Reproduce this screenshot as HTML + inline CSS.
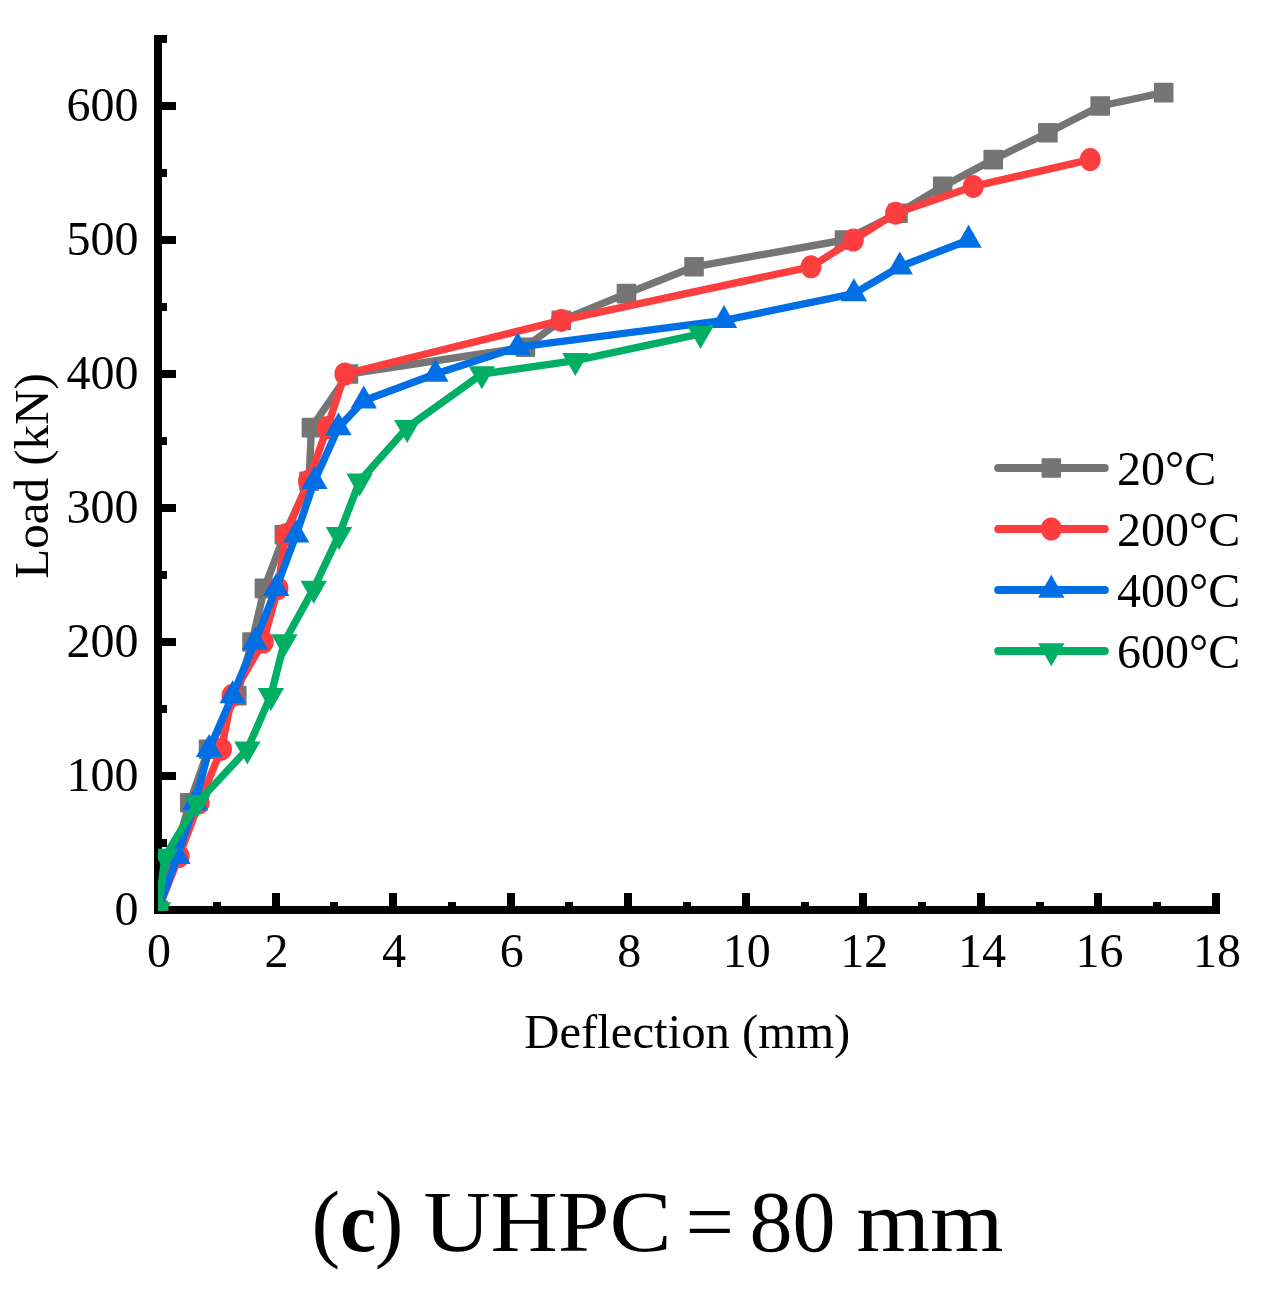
<!DOCTYPE html>
<html lang="en"><head><meta charset="utf-8"><title>(c) UHPC = 80 mm</title>
<style>
html,body{margin:0;padding:0;background:#fff;}
body{width:1282px;height:1290px;overflow:hidden;}
svg{display:block;}
svg{will-change:transform;}
text{font-family:"Liberation Serif","DejaVu Serif",serif;fill:#000;}
.tk{font-size:48px;}
.lg{font-size:48px;}
.cap{font-size:86px;}
</style></head><body>
<svg width="1282" height="1290" viewBox="0 0 1282 1290">
<rect x="0" y="0" width="1282" height="1290" fill="#fff"/>
<defs><clipPath id="plot"><rect x="158" y="30" width="1070" height="881"/></clipPath></defs>

<g fill="#000" shape-rendering="crispEdges">
<rect x="154" y="35" width="8" height="879"/>
<rect x="154" y="906" width="1066" height="8"/>
<rect x="158" y="906" width="18" height="8"/>
<rect x="158" y="839" width="9" height="8"/>
<rect x="158" y="772" width="18" height="8"/>
<rect x="158" y="705" width="9" height="8"/>
<rect x="158" y="638" width="18" height="8"/>
<rect x="158" y="571" width="9" height="8"/>
<rect x="158" y="504" width="18" height="8"/>
<rect x="158" y="437" width="9" height="8"/>
<rect x="158" y="370" width="18" height="8"/>
<rect x="158" y="303" width="9" height="8"/>
<rect x="158" y="236" width="18" height="8"/>
<rect x="158" y="169" width="9" height="8"/>
<rect x="158" y="102" width="18" height="8"/>
<rect x="158" y="35" width="9" height="8"/>
<rect x="154" y="893" width="8" height="17"/>
<rect x="213" y="902" width="8" height="8"/>
<rect x="272" y="893" width="8" height="17"/>
<rect x="330" y="902" width="8" height="8"/>
<rect x="389" y="893" width="8" height="17"/>
<rect x="448" y="902" width="8" height="8"/>
<rect x="507" y="893" width="8" height="17"/>
<rect x="565" y="902" width="8" height="8"/>
<rect x="624" y="893" width="8" height="17"/>
<rect x="683" y="902" width="8" height="8"/>
<rect x="742" y="893" width="8" height="17"/>
<rect x="801" y="902" width="8" height="8"/>
<rect x="859" y="893" width="8" height="17"/>
<rect x="918" y="902" width="8" height="8"/>
<rect x="977" y="893" width="8" height="17"/>
<rect x="1036" y="902" width="8" height="8"/>
<rect x="1094" y="893" width="8" height="17"/>
<rect x="1153" y="902" width="8" height="8"/>
<rect x="1212" y="893" width="8" height="17"/>
</g>
<g class="tk">
<text x="138.5" y="924.6" text-anchor="end">0</text>
<text x="138.5" y="790.6" text-anchor="end">100</text>
<text x="138.5" y="656.6" text-anchor="end">200</text>
<text x="138.5" y="522.6" text-anchor="end">300</text>
<text x="138.5" y="388.6" text-anchor="end">400</text>
<text x="138.5" y="254.6" text-anchor="end">500</text>
<text x="138.5" y="120.6" text-anchor="end">600</text>
<text x="159.0" y="966.5" text-anchor="middle">0</text>
<text x="276.6" y="966.5" text-anchor="middle">2</text>
<text x="394.1" y="966.5" text-anchor="middle">4</text>
<text x="511.7" y="966.5" text-anchor="middle">6</text>
<text x="629.2" y="966.5" text-anchor="middle">8</text>
<text x="746.8" y="966.5" text-anchor="middle">10</text>
<text x="864.3" y="966.5" text-anchor="middle">12</text>
<text x="981.9" y="966.5" text-anchor="middle">14</text>
<text x="1099.4" y="966.5" text-anchor="middle">16</text>
<text x="1217.0" y="966.5" text-anchor="middle">18</text>
</g>
<text class="tk" transform="translate(687.3,1047.8) scale(1.015,1)" text-anchor="middle">Deflection (mm)</text>
<text class="tk" transform="translate(48,476) rotate(-90) scale(1.022,1)" text-anchor="middle">Load (kN)</text>
<g clip-path="url(#plot)">
<polyline points="158.00,910.00 189.74,802.80 208.55,749.20 236.76,695.60 252.04,642.00 264.39,588.40 284.37,534.80 309.06,481.20 311.41,427.60 348.44,374.00 525.36,347.20 561.22,320.40 626.46,293.60 694.05,266.80 844.52,240.00 898.01,213.20 942.68,186.40 993.23,159.60 1047.90,132.80 1100.21,106.00 1163.69,92.60" fill="none" stroke="#757575" stroke-width="7.4" stroke-linejoin="round" stroke-linecap="round"/>
<rect x="148.20" y="900.20" width="19.6" height="19.6" rx="1" fill="#757575"/>
<rect x="179.94" y="793.00" width="19.6" height="19.6" rx="1" fill="#757575"/>
<rect x="198.75" y="739.40" width="19.6" height="19.6" rx="1" fill="#757575"/>
<rect x="226.96" y="685.80" width="19.6" height="19.6" rx="1" fill="#757575"/>
<rect x="242.24" y="632.20" width="19.6" height="19.6" rx="1" fill="#757575"/>
<rect x="254.59" y="578.60" width="19.6" height="19.6" rx="1" fill="#757575"/>
<rect x="274.57" y="525.00" width="19.6" height="19.6" rx="1" fill="#757575"/>
<rect x="299.26" y="471.40" width="19.6" height="19.6" rx="1" fill="#757575"/>
<rect x="301.61" y="417.80" width="19.6" height="19.6" rx="1" fill="#757575"/>
<rect x="338.64" y="364.20" width="19.6" height="19.6" rx="1" fill="#757575"/>
<rect x="515.56" y="337.40" width="19.6" height="19.6" rx="1" fill="#757575"/>
<rect x="551.42" y="310.60" width="19.6" height="19.6" rx="1" fill="#757575"/>
<rect x="616.66" y="283.80" width="19.6" height="19.6" rx="1" fill="#757575"/>
<rect x="684.25" y="257.00" width="19.6" height="19.6" rx="1" fill="#757575"/>
<rect x="834.72" y="230.20" width="19.6" height="19.6" rx="1" fill="#757575"/>
<rect x="888.21" y="203.40" width="19.6" height="19.6" rx="1" fill="#757575"/>
<rect x="932.88" y="176.60" width="19.6" height="19.6" rx="1" fill="#757575"/>
<rect x="983.43" y="149.80" width="19.6" height="19.6" rx="1" fill="#757575"/>
<rect x="1038.10" y="123.00" width="19.6" height="19.6" rx="1" fill="#757575"/>
<rect x="1090.41" y="96.20" width="19.6" height="19.6" rx="1" fill="#757575"/>
<rect x="1153.89" y="82.80" width="19.6" height="19.6" rx="1" fill="#757575"/>
<polyline points="158.00,910.00 179.16,856.40 199.14,802.80 221.48,749.20 232.06,695.60 263.21,642.00 277.91,588.40 285.55,534.80 308.47,481.20 327.28,427.60 344.91,374.00 561.22,320.40 811.02,266.80 853.34,240.00 895.66,213.20 973.25,186.40 1090.22,159.60" fill="none" stroke="#FC3E3E" stroke-width="7.4" stroke-linejoin="round" stroke-linecap="round"/>
<ellipse cx="158.00" cy="910.00" rx="10.5" ry="11.5" fill="#FC3E3E"/>
<ellipse cx="179.16" cy="856.40" rx="10.5" ry="11.5" fill="#FC3E3E"/>
<ellipse cx="199.14" cy="802.80" rx="10.5" ry="11.5" fill="#FC3E3E"/>
<ellipse cx="221.48" cy="749.20" rx="10.5" ry="11.5" fill="#FC3E3E"/>
<ellipse cx="232.06" cy="695.60" rx="10.5" ry="11.5" fill="#FC3E3E"/>
<ellipse cx="263.21" cy="642.00" rx="10.5" ry="11.5" fill="#FC3E3E"/>
<ellipse cx="277.91" cy="588.40" rx="10.5" ry="11.5" fill="#FC3E3E"/>
<ellipse cx="285.55" cy="534.80" rx="10.5" ry="11.5" fill="#FC3E3E"/>
<ellipse cx="308.47" cy="481.20" rx="10.5" ry="11.5" fill="#FC3E3E"/>
<ellipse cx="327.28" cy="427.60" rx="10.5" ry="11.5" fill="#FC3E3E"/>
<ellipse cx="344.91" cy="374.00" rx="10.5" ry="11.5" fill="#FC3E3E"/>
<ellipse cx="561.22" cy="320.40" rx="10.5" ry="11.5" fill="#FC3E3E"/>
<ellipse cx="811.02" cy="266.80" rx="10.5" ry="11.5" fill="#FC3E3E"/>
<ellipse cx="853.34" cy="240.00" rx="10.5" ry="11.5" fill="#FC3E3E"/>
<ellipse cx="895.66" cy="213.20" rx="10.5" ry="11.5" fill="#FC3E3E"/>
<ellipse cx="973.25" cy="186.40" rx="10.5" ry="11.5" fill="#FC3E3E"/>
<ellipse cx="1090.22" cy="159.60" rx="10.5" ry="11.5" fill="#FC3E3E"/>
<polyline points="158.00,910.00 177.40,856.40 195.03,802.80 209.14,749.20 232.65,695.60 254.98,642.00 276.14,588.40 296.13,534.80 314.35,481.20 338.45,427.60 363.72,400.80 435.43,374.00 517.72,347.20 724.03,320.40 853.93,293.60 899.78,266.80 968.55,240.00" fill="none" stroke="#006EE4" stroke-width="7.4" stroke-linejoin="round" stroke-linecap="round"/>
<polygon points="158.00,894.70 171.20,917.70 144.80,917.70" fill="#006EE4"/>
<polygon points="177.40,841.10 190.60,864.10 164.20,864.10" fill="#006EE4"/>
<polygon points="195.03,787.50 208.23,810.50 181.83,810.50" fill="#006EE4"/>
<polygon points="209.14,733.90 222.34,756.90 195.94,756.90" fill="#006EE4"/>
<polygon points="232.65,680.30 245.85,703.30 219.45,703.30" fill="#006EE4"/>
<polygon points="254.98,626.70 268.18,649.70 241.78,649.70" fill="#006EE4"/>
<polygon points="276.14,573.10 289.34,596.10 262.94,596.10" fill="#006EE4"/>
<polygon points="296.13,519.50 309.33,542.50 282.93,542.50" fill="#006EE4"/>
<polygon points="314.35,465.90 327.55,488.90 301.15,488.90" fill="#006EE4"/>
<polygon points="338.45,412.30 351.65,435.30 325.25,435.30" fill="#006EE4"/>
<polygon points="363.72,385.50 376.92,408.50 350.52,408.50" fill="#006EE4"/>
<polygon points="435.43,358.70 448.63,381.70 422.23,381.70" fill="#006EE4"/>
<polygon points="517.72,331.90 530.92,354.90 504.52,354.90" fill="#006EE4"/>
<polygon points="724.03,305.10 737.23,328.10 710.83,328.10" fill="#006EE4"/>
<polygon points="853.93,278.30 867.13,301.30 840.73,301.30" fill="#006EE4"/>
<polygon points="899.78,251.50 912.98,274.50 886.58,274.50" fill="#006EE4"/>
<polygon points="968.55,224.70 981.75,247.70 955.35,247.70" fill="#006EE4"/>
<polyline points="158.00,910.00 165.05,856.40 197.38,802.80 247.34,749.20 270.85,695.60 284.37,642.00 313.76,588.40 339.04,534.80 359.61,481.20 407.22,427.60 481.87,374.00 575.32,360.60 700.52,333.80" fill="none" stroke="#00AE64" stroke-width="7.4" stroke-linejoin="round" stroke-linecap="round"/>
<polygon points="158.00,925.30 171.20,902.30 144.80,902.30" fill="#00AE64"/>
<polygon points="165.05,871.70 178.25,848.70 151.85,848.70" fill="#00AE64"/>
<polygon points="197.38,818.10 210.58,795.10 184.18,795.10" fill="#00AE64"/>
<polygon points="247.34,764.50 260.54,741.50 234.14,741.50" fill="#00AE64"/>
<polygon points="270.85,710.90 284.05,687.90 257.65,687.90" fill="#00AE64"/>
<polygon points="284.37,657.30 297.57,634.30 271.17,634.30" fill="#00AE64"/>
<polygon points="313.76,603.70 326.96,580.70 300.56,580.70" fill="#00AE64"/>
<polygon points="339.04,550.10 352.24,527.10 325.84,527.10" fill="#00AE64"/>
<polygon points="359.61,496.50 372.81,473.50 346.41,473.50" fill="#00AE64"/>
<polygon points="407.22,442.90 420.42,419.90 394.02,419.90" fill="#00AE64"/>
<polygon points="481.87,389.30 495.07,366.30 468.67,366.30" fill="#00AE64"/>
<polygon points="575.32,375.90 588.52,352.90 562.12,352.90" fill="#00AE64"/>
<polygon points="700.52,349.10 713.72,326.10 687.32,326.10" fill="#00AE64"/>
</g>
<line x1="998.2" y1="468" x2="1104.8" y2="468" stroke="#757575" stroke-width="8" stroke-linecap="round"/>
<rect x="1041.50" y="458.20" width="19.6" height="19.6" rx="1" fill="#757575"/>
<text class="lg" x="1117" y="485">20°C</text>
<line x1="998.2" y1="529" x2="1104.8" y2="529" stroke="#FC3E3E" stroke-width="8" stroke-linecap="round"/>
<ellipse cx="1051.30" cy="529.00" rx="10.5" ry="11.5" fill="#FC3E3E"/>
<text class="lg" x="1117" y="546">200°C</text>
<line x1="998.2" y1="590" x2="1104.8" y2="590" stroke="#006EE4" stroke-width="8" stroke-linecap="round"/>
<polygon points="1051.30,574.70 1064.50,597.70 1038.10,597.70" fill="#006EE4"/>
<text class="lg" x="1117" y="607">400°C</text>
<line x1="998.2" y1="651" x2="1104.8" y2="651" stroke="#00AE64" stroke-width="8" stroke-linecap="round"/>
<polygon points="1051.30,666.30 1064.50,643.30 1038.10,643.30" fill="#00AE64"/>
<text class="lg" x="1117" y="668">600°C</text>
<g class="cap">
<text x="311.6" y="1250.5">(</text>
<text font-weight="bold" transform="translate(339.9,1250.5) scale(0.95,1)">c</text>
<text x="374.8" y="1250.5">)</text>
<text transform="translate(423.4,1250.5) scale(1.082,1)">UHPC</text>
<text x="685.6" y="1250.5">=</text>
<text x="749.5" y="1250.5">80</text>
<text transform="translate(856.5,1250.5) scale(1.098,1)">mm</text>
</g>
</svg></body></html>
